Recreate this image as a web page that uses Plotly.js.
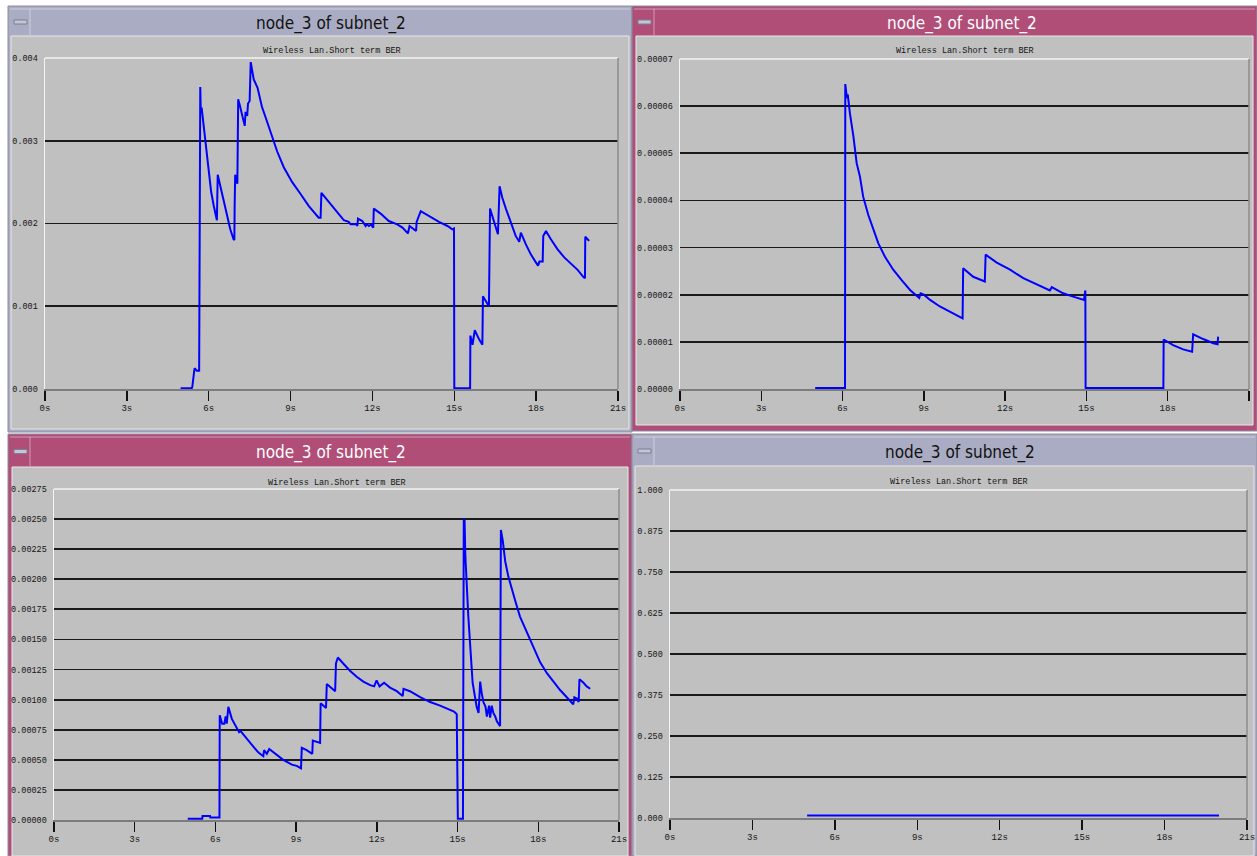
<!DOCTYPE html>
<html><head><meta charset="utf-8">
<script src="https://cdn.plot.ly/plotly-3.0.1.min.js"></script>
<style>html,body{margin:0;padding:0;background:#fff;overflow:hidden}#chart{width:1257px;height:856px}</style>
</head><body><div id="chart"></div>
<script>
// ---------- data ----------
const panelTitle = 'node_3 of subnet_2';
const statName = 'Wireless Lan.Short term BER';
const timeTicks = [0, 3, 6, 9, 12, 15, 18, 21];
const timeTickLabels = ['0s', '3s', '6s', '9s', '12s', '15s', '18s', '21s'];

const p1Ticks = [0, 0.001, 0.002, 0.003, 0.004];
const p2Ticks = [0, 0.00001, 0.00002, 0.00003, 0.00004, 0.00005, 0.00006, 0.00007];
const p3Ticks = [0, 0.00025, 0.0005, 0.00075, 0.001, 0.00125, 0.0015, 0.00175, 0.002, 0.00225, 0.0025, 0.00275];
const p4Ticks = [0, 0.125, 0.25, 0.375, 0.5, 0.625, 0.75, 0.875, 1];

const p1Time = [4.97, 5.38, 5.40, 5.48, 5.57, 5.65, 5.69, 5.71, 5.74, 5.87, 6.00, 6.09, 6.18, 6.30, 6.33, 6.42, 6.55, 6.67, 6.79, 6.91, 6.94, 6.95, 6.97, 7.05, 7.08, 7.14, 7.24, 7.32, 7.35, 7.41, 7.44, 7.50, 7.54, 7.65, 7.79, 7.95, 8.14, 8.32, 8.51, 8.75, 9.06, 9.36, 9.67, 10.03, 10.10, 10.13, 10.46, 10.71, 10.95, 11.13, 11.20, 11.42, 11.45, 11.47, 11.63, 11.75, 11.80, 11.87, 11.95, 12.03, 12.05, 12.30, 12.60, 12.91, 13.10, 13.30, 13.36, 13.60, 13.62, 13.77, 14.01, 14.44, 14.75, 14.93, 14.99, 15.00, 15.58, 15.59, 15.67, 15.75, 15.91, 16.03, 16.05, 16.12, 16.27, 16.31, 16.40, 16.52, 16.60, 16.66, 16.76, 16.89, 17.07, 17.25, 17.38, 17.44, 17.62, 17.80, 17.99, 18.07, 18.12, 18.24, 18.26, 18.36, 18.54, 18.78, 19.03, 19.27, 19.52, 19.74, 19.79, 19.80, 19.87, 19.94];
const p1Ber = [0.00001, 0.00001, 0.00003, 0.00025, 0.00022, 0.00022, 0.00365, 0.00335, 0.0034, 0.00299, 0.00262, 0.00238, 0.00222, 0.00204, 0.00259, 0.00246, 0.00226, 0.0021, 0.00193, 0.00181, 0.0018, 0.0022, 0.00259, 0.00248, 0.0035, 0.00343, 0.00329, 0.00318, 0.00335, 0.0033, 0.00345, 0.00348, 0.00395, 0.00374, 0.00364, 0.00341, 0.00323, 0.00305, 0.00287, 0.00268, 0.0025, 0.00236, 0.00221, 0.00207, 0.00207, 0.00237, 0.00224, 0.00214, 0.00204, 0.00202, 0.00199, 0.00199, 0.00197, 0.00206, 0.00203, 0.00197, 0.00199, 0.00197, 0.00199, 0.00195, 0.00218, 0.00212, 0.00203, 0.00199, 0.00195, 0.00188, 0.00197, 0.00191, 0.00202, 0.00215, 0.0021, 0.00202, 0.00197, 0.00193, 0.00194, 0.00001, 0.00001, 0.000645, 0.000535, 0.00071, 0.0006, 0.000535, 0.00112, 0.00108, 0.001, 0.00218, 0.00208, 0.00195, 0.00187, 0.00245, 0.00231, 0.00218, 0.00202, 0.00185, 0.00178, 0.00189, 0.00175, 0.00163, 0.00153, 0.00149, 0.00154, 0.00154, 0.00185, 0.00191, 0.00181, 0.00169, 0.00159, 0.00152, 0.00144, 0.00135, 0.00134, 0.00184, 0.00182, 0.00179];

const p2Time = [4.99, 6.09, 6.10, 6.16, 6.19, 6.27, 6.40, 6.52, 6.64, 6.76, 6.95, 7.13, 7.32, 7.56, 7.87, 8.18, 8.49, 8.83, 8.88, 9.00, 9.23, 9.59, 9.96, 10.43, 10.45, 10.82, 11.25, 11.28, 11.69, 12.18, 12.67, 13.17, 13.65, 13.72, 14.14, 14.51, 14.91, 14.96, 14.97, 17.84, 17.85, 18.20, 18.57, 18.90, 18.94, 19.31, 19.68, 19.84, 19.86];
const p2Ber = [0.0000002, 0.0000002, 0.0000647, 0.0000617, 0.0000625, 0.0000585, 0.0000536, 0.0000479, 0.0000451, 0.0000408, 0.0000369, 0.0000338, 0.0000309, 0.0000281, 0.0000253, 0.0000231, 0.000021, 0.0000193, 0.0000203, 0.00002, 0.0000189, 0.0000175, 0.0000164, 0.000015, 0.0000256, 0.0000238, 0.0000228, 0.0000285, 0.0000268, 0.0000253, 0.0000235, 0.0000221, 0.0000209, 0.0000216, 0.0000203, 0.0000196, 0.0000189, 0.0000209, 0.0000002, 0.0000002, 0.0000105, 0.0000093, 0.0000084, 0.0000079, 0.0000116, 0.0000106, 0.0000097, 0.0000095, 0.0000111];

const p3Time = [4.97, 5.51, 5.52, 5.80, 5.81, 6.15, 6.16, 6.25, 6.33, 6.38, 6.42, 6.48, 6.61, 6.79, 6.88, 6.93, 7.04, 7.16, 7.29, 7.41, 7.60, 7.78, 7.81, 7.91, 8.00, 8.22, 8.52, 8.84, 9.02, 9.18, 9.21, 9.39, 9.60, 9.62, 9.89, 9.91, 10.11, 10.14, 10.32, 10.45, 10.48, 10.55, 10.75, 11.00, 11.25, 11.50, 11.75, 11.90, 11.99, 12.10, 12.27, 12.49, 12.74, 12.96, 12.99, 13.23, 13.61, 13.98, 14.35, 14.66, 14.87, 14.97, 14.98, 15.01, 15.20, 15.23, 15.26, 15.29, 15.40, 15.49, 15.56, 15.65, 15.71, 15.78, 15.84, 15.90, 15.96, 16.04, 16.09, 16.17, 16.21, 16.27, 16.33, 16.40, 16.46, 16.58, 16.61, 16.68, 16.77, 16.89, 17.01, 17.17, 17.32, 17.51, 17.70, 17.88, 18.07, 18.32, 18.56, 18.81, 19.06, 19.24, 19.30, 19.34, 19.43, 19.50, 19.53, 19.68, 19.80, 19.93];
const p3Ber = [0.00001, 0.00001, 0.000033, 0.000033, 0.00002, 0.00002, 0.00087, 0.0008, 0.0008, 0.00086, 0.0008, 0.00094, 0.00084, 0.00076, 0.00073, 0.00074, 0.00071, 0.00067, 0.00064, 0.00061, 0.00056, 0.00053, 0.00058, 0.00055, 0.00059, 0.00055, 0.0005, 0.00046, 0.00045, 0.00043, 0.0006, 0.00058, 0.00055, 0.00066, 0.00064, 0.00097, 0.00093, 0.00113, 0.00109, 0.00107, 0.0013, 0.00135, 0.0013, 0.00124, 0.00119, 0.00115, 0.00112, 0.00111, 0.00116, 0.00111, 0.00114, 0.0011, 0.00107, 0.00103, 0.00109, 0.00107, 0.00102, 0.00098, 0.00095, 0.00092, 0.0009, 0.00088, 0.00044, 0.00001, 0.00001, 0.0025, 0.00249, 0.00219, 0.00169, 0.00136, 0.00114, 0.00102, 0.00094, 0.00089, 0.00115, 0.00105, 0.00098, 0.00094, 0.00086, 0.00095, 0.00085, 0.00095, 0.00089, 0.00086, 0.00082, 0.00078, 0.00241, 0.00232, 0.00215, 0.00202, 0.00192, 0.0018, 0.00169, 0.00159, 0.0015, 0.00141, 0.00131, 0.00122, 0.00115, 0.00108, 0.00102, 0.00097, 0.00096, 0.00102, 0.00101, 0.00098, 0.00117, 0.00114, 0.00111, 0.00109];

const p4Time = [4.99, 19.98];
const p4Ber = [0.008, 0.008];

// ---------- layout geometry (pixels) ----------
const W = 1257, H = 856;
const px = x => x / W;
const py = y => 1 - y / H;
const LAV = '#a9acc2', PINK = '#b04e78', BODY = '#c0c0c0';

const panels = [
  {id: '', plot: [45, 618, 58, 389], ticks: p1Ticks, fmt: '.3f', t: p1Time, v: p1Ber,
   win: [8, 632, 6, 432], body: [11, 629, 36, 429], frame: LAV, titleColor: '#111', titleX: 331, titleY: 23, subY: 51},
  {id: '2', plot: [680, 1249, 59, 389], ticks: p2Ticks, fmt: '.5f', t: p2Time, v: p2Ber,
   win: [632, 1257, 6, 431], body: [636, 1253, 36, 425], frame: PINK, titleColor: '#fff', titleX: 962, titleY: 23, subY: 51},
  {id: '3', plot: [54, 619, 489, 820], ticks: p3Ticks, fmt: '.5f', t: p3Time, v: p3Ber,
   win: [8, 632, 434, 856], body: [12, 628, 467, 856], frame: PINK, titleColor: '#fff', titleX: 331, titleY: 453, subY: 483},
  {id: '4', plot: [670, 1247, 490, 818], ticks: p4Ticks, fmt: '.3f', t: p4Time, v: p4Ber,
   win: [632, 1257, 434, 856], body: [635, 1254, 466, 856], frame: LAV, titleColor: '#111', titleX: 960, titleY: 452, subY: 482}
];

const monoFamily = 'Liberation Mono, DejaVu Sans Mono, monospace';
const xTickFont = {family: monoFamily, size: 9, color: '#151515'};
const yTickFont = {family: monoFamily, size: 8.5, color: '#151515'};
const titleFont = {family: 'DejaVu Sans Condensed, Liberation Sans Narrow, Roboto Condensed, Roboto, sans-serif', size: 17};

const data = [];
const shapes = [];
const annotations = [];
const layout = {
  width: W, height: H,
  margin: {l: 0, r: 0, t: 0, b: 0},
  paper_bgcolor: '#ffffff',
  plot_bgcolor: '#bebebe',
  showlegend: false,
  shapes: shapes,
  annotations: annotations
};

panels.forEach(p => {
  const xa = 'x' + p.id, ya = 'y' + p.id;
  const [x0, x1, yTop, yBot] = p.plot;
  // window chrome
  shapes.push({type: 'rect', xref: 'paper', yref: 'paper', layer: 'below',
    x0: px(p.win[0]), x1: px(p.win[1]), y0: py(p.win[3]), y1: py(p.win[2]),
    fillcolor: p.frame, line: {color: '#8a8ca0', width: 1}});
  shapes.push({type: 'rect', xref: 'paper', yref: 'paper', layer: 'below',
    x0: px(p.body[0]), x1: px(p.body[1]), y0: py(p.body[3]), y1: py(p.body[2]),
    fillcolor: BODY, line: {color: '#e8e8e8', width: 1}});
  // title bar bevel lines and minimize button
  shapes.push({type: 'line', xref: 'paper', yref: 'paper', layer: 'below',
    x0: px(p.win[0] + 2), x1: px(p.win[1] - 2), y0: py(p.win[2] + 3), y1: py(p.win[2] + 3),
    line: {color: 'rgba(255,255,255,0.45)', width: 1}});
  shapes.push({type: 'line', xref: 'paper', yref: 'paper', layer: 'below',
    x0: px(p.win[0] + 22), x1: px(p.win[0] + 22), y0: py(p.body[2] - 1), y1: py(p.win[2] + 3),
    line: {color: 'rgba(255,255,255,0.45)', width: 1}});
  const by = (p.win[2] + p.body[2]) / 2 + 1;
  shapes.push({type: 'rect', xref: 'paper', yref: 'paper', layer: 'below',
    x0: px(p.win[0] + 6), x1: px(p.win[0] + 19), y0: py(by + 2), y1: py(by - 2),
    fillcolor: '#c4c6d6', line: {color: '#7d7f92', width: 1}});
  // window title
  annotations.push({xref: 'paper', yref: 'paper', x: px(p.titleX), y: py(p.titleY),
    xanchor: 'center', yanchor: 'middle', showarrow: false, text: panelTitle,
    font: Object.assign({}, titleFont, {color: p.titleColor})});
  // statistic name
  annotations.push({xref: 'paper', yref: 'paper', x: px((x0 + x1) / 2), y: py(p.subY),
    xanchor: 'center', yanchor: 'middle', showarrow: false, text: statName,
    font: {family: monoFamily, size: 8.5, color: '#151515'}});
  // axes
  layout['xaxis' + p.id] = {
    domain: [px(x0), px(x1)], anchor: ya, range: [0, 21],
    tickvals: timeTicks, ticktext: timeTickLabels,
    ticks: 'outside', ticklen: 10, tickwidth: 1.5, tickcolor: '#111',
    showline: true, linecolor: '#7c7c7c', linewidth: 1.5,
    showgrid: false, zeroline: false, fixedrange: true,
    tickfont: xTickFont
  };
  layout['yaxis' + p.id] = {
    domain: [py(yBot), py(yTop)], anchor: xa,
    range: [0, p.ticks[p.ticks.length - 1]],
    tickvals: p.ticks, tickformat: p.fmt,
    ticks: '', ticklabelstandoff: 4,
    showgrid: true, gridcolor: '#1a1a1a', gridwidth: 1.8,
    showline: true, linecolor: '#f4f4f4', linewidth: 1.5,
    zeroline: false, fixedrange: true,
    tickfont: yTickFont
  };
  // plot frame: top white, right grey
  shapes.push({type: 'line', xref: xa + ' domain', yref: ya + ' domain', layer: 'above',
    x0: 0, x1: 1, y0: 1, y1: 1, line: {color: '#f4f4f4', width: 1.5}});
  shapes.push({type: 'line', xref: xa + ' domain', yref: ya + ' domain', layer: 'above',
    x0: 1, x1: 1, y0: 0, y1: 1, line: {color: '#8c8c8c', width: 1.5}});
  // series
  data.push({type: 'scatter', mode: 'lines', x: p.t, y: p.v, xaxis: xa, yaxis: ya,
    line: {color: '#0000ff', width: 2}, hoverinfo: 'skip', cliponaxis: true});
});

Plotly.newPlot('chart', data, layout, {staticPlot: true, displayModeBar: false});
</script>
</body></html>
